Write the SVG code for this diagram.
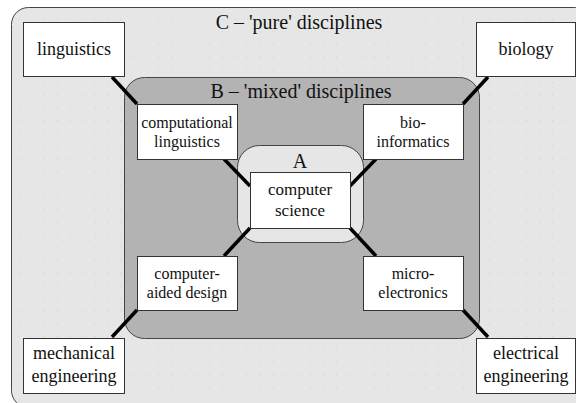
<svg xmlns="http://www.w3.org/2000/svg" width="576" height="403" viewBox="0 0 576 403">
<defs>
<style>
.zone{stroke:#444;stroke-width:1}
.node{fill:#fff;stroke:#333;stroke-width:1}
.t{font-family:'Liberation Serif','Times New Roman','DejaVu Serif',Tinos,serif;fill:#111;text-anchor:middle}
.big{font-size:20px}
.outer{font-size:18px}
.inner{font-size:16px}
.cs{font-size:17px}
.link{stroke:#000;stroke-width:3.5;stroke-linecap:butt}
</style>
<pattern id="dots" width="12.7" height="12.7" patternUnits="userSpaceOnUse">
<rect x="6" y="6" width="1" height="1" fill="#cacaca"/>
</pattern>
</defs>
<rect width="576" height="403" fill="#fff"/>
<g id="zoneC">
<rect class="zone" x="11.5" y="7.5" width="580" height="400" rx="17" fill="#e6e6e6"/>
<rect x="12" y="8" width="579" height="399" rx="17" fill="url(#dots)"/>
<text class="t big" x="299" y="29" font-family="Liberation Serif, DejaVu Serif, serif">C – 'pure' disciplines</text>
</g>
<g id="zoneB">
<rect class="zone" x="124.5" y="77.5" width="355" height="261" rx="20" fill="#b3b3b3"/>
<text class="t big" x="301" y="98">B – 'mixed' disciplines</text>
</g>
<g id="zoneA">
<rect class="zone" x="237.5" y="145.5" width="126" height="97" rx="22" fill="#e6e6e6"/>
<text class="t big" x="300" y="168">A</text>
</g>
<g id="connectors">
<line class="link" x1="112" y1="77" x2="137" y2="104"/>
<line class="link" x1="488" y1="77" x2="463" y2="104"/>
<line class="link" x1="112" y1="337" x2="137" y2="310"/>
<line class="link" x1="488" y1="337" x2="463" y2="310"/>
<line class="link" x1="224" y1="159" x2="250" y2="186"/>
<line class="link" x1="376" y1="159" x2="350" y2="186"/>
<line class="link" x1="224" y1="256" x2="250" y2="228"/>
<line class="link" x1="376" y1="256" x2="350" y2="228"/>
</g>
<g id="linguistics">
<rect class="node" x="23.5" y="22.5" width="101" height="54"/>
<text class="t outer" x="74" y="55">linguistics</text>
</g>
<g id="biology">
<rect class="node" x="476.5" y="22.5" width="99" height="54"/>
<text class="t outer" x="526" y="55">biology</text>
</g>
<g id="mechanical-engineering">
<rect class="node" x="23.5" y="338.5" width="101" height="55"/>
<text class="t outer" x="74" y="359">mechanical</text>
<text class="t outer" x="74" y="382">engineering</text>
</g>
<g id="electrical-engineering">
<rect class="node" x="476.5" y="338.5" width="99" height="55"/>
<text class="t outer" x="526" y="359">electrical</text>
<text class="t outer" x="526" y="382">engineering</text>
</g>
<g id="computational-linguistics">
<rect class="node" x="137.5" y="104.5" width="100" height="55"/>
<text class="t inner" x="187" y="128">computational</text>
<text class="t inner" x="187" y="147">linguistics</text>
</g>
<g id="bio-informatics">
<rect class="node" x="363.5" y="104.5" width="100" height="55"/>
<text class="t inner" x="413" y="128">bio-</text>
<text class="t inner" x="413" y="147">informatics</text>
</g>
<g id="computer-aided-design">
<rect class="node" x="137.5" y="256.5" width="100" height="54"/>
<text class="t inner" x="187" y="279">computer-</text>
<text class="t inner" x="187" y="298">aided design</text>
</g>
<g id="micro-electronics">
<rect class="node" x="363.5" y="256.5" width="100" height="54"/>
<text class="t inner" x="413" y="279">micro-</text>
<text class="t inner" x="413" y="298">electronics</text>
</g>
<g id="computer-science">
<rect class="node" x="250.5" y="172.5" width="100" height="56"/>
<text class="t cs" x="300" y="195">computer</text>
<text class="t cs" x="300" y="216">science</text>
</g>
</svg>
